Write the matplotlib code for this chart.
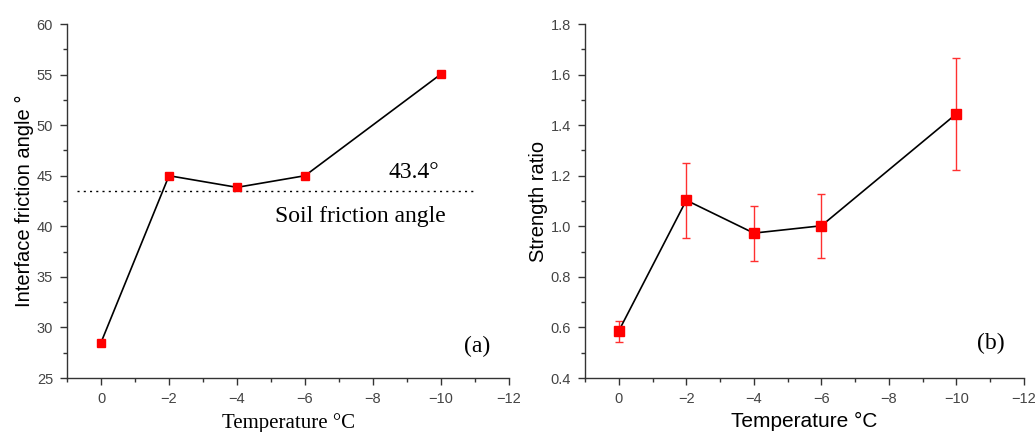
import matplotlib
matplotlib.use("Agg")
import matplotlib.pyplot as plt
from matplotlib.ticker import MultipleLocator
import numpy as np

temps = [0, -2, -4, -6, -10]
friction_angle = [28.5, 45.0, 43.85, 45.0, 55.05]
soil_angle = 43.5
strength_ratio = [0.586, 1.103, 0.973, 1.002, 1.445]
err_low = [0.544, 0.954, 0.863, 0.874, 1.223]
err_high = [0.624, 1.251, 1.082, 1.129, 1.664]
xticks = [0, -2, -4, -6, -8, -10, -12]
xtick_labels = ["0", "\u22122", "\u22124", "\u22126", "\u22128", "\u221210", "\u221212"]

SANS = "Liberation Sans"
SERIF = "Liberation Serif"
plt.rcParams['font.family'] = [SANS, 'DejaVu Sans']

fig = plt.figure(figsize=(10.35, 4.32), dpi=100)
W, H = 1035, 432
ax1 = fig.add_axes([67 / W, 1 - 378 / H, (509 - 67) / W, (378 - 24) / H])
ax2 = fig.add_axes([585 / W, 1 - 378 / H, (1024 - 585) / W, (378 - 24) / H])

def style(ax):
    for s in ["top", "right"]:
        ax.spines[s].set_visible(False)
    for s in ["left", "bottom"]:
        ax.spines[s].set_color("#333333")
        ax.spines[s].set_linewidth(1.0)
    ax.set_xlim(1, -12)
    ax.set_xticks(xticks)
    ax.set_xticklabels(xtick_labels)
    ax.xaxis.set_minor_locator(MultipleLocator(1))
    ax.tick_params(which="major", direction="out", length=5, width=1,
                   color="#333333", labelsize=10.5, labelcolor="#444444", pad=5)
    ax.tick_params(which="minor", direction="out", length=3, width=1, color="#333333")

style(ax1)
ax1.set_ylim(25, 60)
ax1.yaxis.set_major_locator(MultipleLocator(5))
ax1.yaxis.set_minor_locator(MultipleLocator(2.5))
ax1.plot(temps, friction_angle, color="black", lw=1.2, marker="s", ms=5.8,
         mfc="#ff0000", mec="#ff0000", zorder=3)
ax1.plot([0.7, -11.0], [soil_angle, soil_angle], color="black", lw=1, ls=(0, (1.5, 3)))
ax1.text(-9.2, 45.3, "43.4\u00b0", fontsize=17, family=SERIF, ha="center", va="center")
ax1.text(-7.62, 41.0, "Soil friction angle", fontsize=17, family=SERIF, ha="center", va="center")
ax1.text(-11.06, 28.1, "(a)", fontsize=17, family=SERIF, ha="center", va="center")
ax1.set_ylabel("Interface friction angle \u00b0", fontsize=14.5, labelpad=2)
ax1.set_xlabel("Temperature \u00b0C", fontsize=15, family=SERIF, labelpad=5)

style(ax2)
ax2.set_ylim(0.4, 1.8)
ax2.yaxis.set_major_locator(MultipleLocator(0.2))
ax2.yaxis.set_minor_locator(MultipleLocator(0.1))
ax2.yaxis.set_major_formatter(matplotlib.ticker.FormatStrFormatter("%.1f"))
yerr = [np.array(strength_ratio) - np.array(err_low), np.array(err_high) - np.array(strength_ratio)]
ax2.errorbar(temps, strength_ratio, yerr=yerr, fmt="none", ecolor="#ff3030",
             elinewidth=1, capsize=3, capthick=1, zorder=2)
ax2.plot(temps, strength_ratio, color="black", lw=1.2, marker="s", ms=7,
         mfc="#ff0000", mec="#ff0000", zorder=3)
ax2.text(-11.03, 0.538, "(b)", fontsize=17, family=SERIF, ha="center", va="center")
ax2.set_ylabel("Strength ratio", fontsize=14.5, labelpad=2)
ax2.set_xlabel("Temperature \u00b0C", fontsize=15, labelpad=4)

fig.savefig("out.png", dpi=100)
